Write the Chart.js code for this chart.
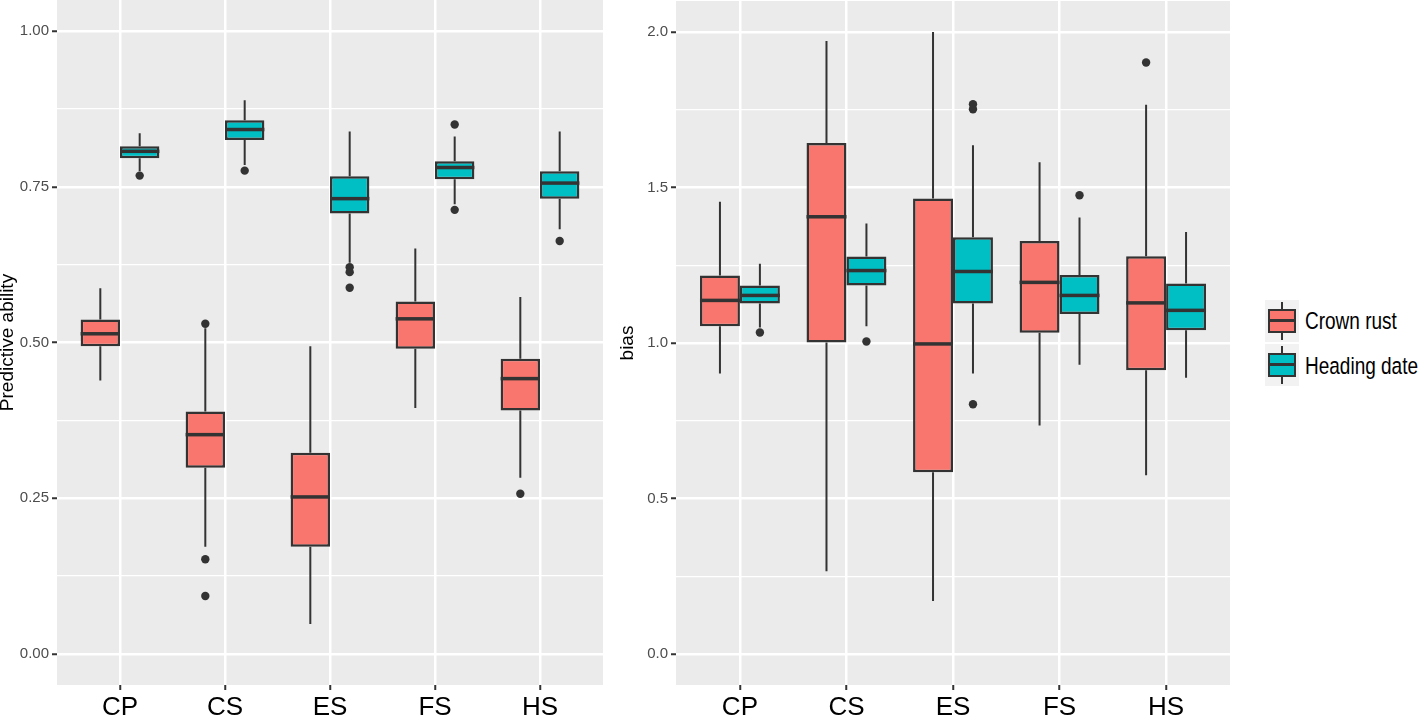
<html>
<head>
  <title>Predictive ability and bias</title>
  <script src="https://cdn.jsdelivr.net/npm/chart.js"></script>
  <style>
    body { margin: 0; background: #fff; width: 1418px; height: 719px; overflow: hidden; position: relative; font-family: "Liberation Sans", Arial, sans-serif; }
    canvas { position: absolute; top: 0; }
    #left-chart { left: 0; }
    #right-chart { left: 612px; }
    .key { position: absolute; left: 1265px; width: 34px; background: #f2f2f2; }
    .whisker { position: absolute; left: 16px; width: 2px; background: #333; }
    .kbox { position: absolute; left: 3px; width: 28px; height: 24px; box-sizing: border-box; border: 2.5px solid #333; }
    .kmed { position: absolute; left: 0; right: 0; top: 8px; height: 3px; background: #333; }
    .ktext { position: absolute; left: 1305px; font-size: 19px; line-height: 20px; color: #000; white-space: nowrap; transform: scaleY(1.25); transform-origin: left center; }
  </style>
</head>
<body>
  <canvas id="left-chart" width="603" height="719"></canvas>
  <canvas id="right-chart" width="618" height="719"></canvas>

  <!-- legend -->
  <div class="key" style="top:300px; height:42px;">
    <div class="whisker" style="top:2px; height:38px;"></div>
    <div class="kbox" style="top:9px; background:#F8766D;"><div class="kmed"></div></div>
  </div>
  <div class="ktext" style="top:311px;">Crown rust</div>
  <div class="key" style="top:344px; height:42px;">
    <div class="whisker" style="top:2px; height:38px;"></div>
    <div class="kbox" style="top:9px; background:#00BFC4;"><div class="kmed"></div></div>
  </div>
  <div class="ktext" style="top:356px;">Heading date</div>

  <script>
    const categories = ['CP', 'CS', 'ES', 'FS', 'HS'];

    // [lower whisker, q1, median, q3, upper whisker] per category
    const paCrown = [
      [0.439, 0.494, 0.514, 0.537, 0.587],
      [0.172, 0.299, 0.352, 0.389, 0.523],
      [0.048, 0.172, 0.252, 0.323, 0.494],
      [0.395, 0.490, 0.538, 0.566, 0.651],
      [0.283, 0.391, 0.442, 0.474, 0.573]
    ];
    const paCrownOut = [[], [0.530, 0.152, 0.093], [], [], [0.257]];
    const paHeading = [
      [0.775, 0.796, 0.807, 0.815, 0.836],
      [0.785, 0.825, 0.842, 0.857, 0.889],
      [0.628, 0.707, 0.731, 0.767, 0.839],
      [0.722, 0.762, 0.781, 0.791, 0.831],
      [0.682, 0.731, 0.756, 0.775, 0.839]
    ];
    const paHeadingOut = [[0.768], [0.776], [0.621, 0.613, 0.588], [0.850, 0.713], [0.663]];

    const biasCrown = [
      [0.902, 1.054, 1.137, 1.217, 1.454],
      [0.266, 1.002, 1.406, 1.643, 1.971],
      [0.170, 0.584, 0.997, 1.465, 2.000],
      [0.735, 1.033, 1.195, 1.328, 1.581],
      [0.575, 0.912, 1.129, 1.279, 1.766]
    ];
    const biasCrownOut = [[], [], [], [], [1.902]];
    const biasHeading = [
      [1.050, 1.127, 1.153, 1.185, 1.255],
      [1.054, 1.185, 1.233, 1.278, 1.384],
      [0.902, 1.127, 1.230, 1.340, 1.636],
      [0.930, 1.093, 1.153, 1.219, 1.404],
      [0.888, 1.041, 1.105, 1.191, 1.357]
    ];
    const biasHeadingOut = [[1.034], [1.005], [1.768, 1.752, 0.803], [1.475], []];

    const FONT = '"Liberation Sans", Arial, sans-serif';
    const INK = '#333333';

    // whiskers, medians, outliers and the grey panel
    const boxPlugin = {
      id: 'boxes',
      beforeDraw(chart) {
        const a = chart.chartArea, ctx = chart.ctx;
        ctx.save();
        ctx.fillStyle = '#EBEBEB';
        ctx.fillRect(a.left, a.top, a.right - a.left, a.bottom - a.top);
        ctx.restore();
      },
      beforeDatasetsDraw(chart) {
        const ctx = chart.ctx, y = chart.scales.y;
        ctx.save();
        ctx.strokeStyle = INK;
        ctx.lineWidth = 2;
        chart.$stats.forEach((stats, d) => {
          chart.getDatasetMeta(d).data.forEach((bar, i) => {
            const s = stats[i];
            ctx.beginPath();
            ctx.moveTo(bar.x, y.getPixelForValue(s[0]));
            ctx.lineTo(bar.x, y.getPixelForValue(s[1]));
            ctx.moveTo(bar.x, y.getPixelForValue(s[3]));
            ctx.lineTo(bar.x, y.getPixelForValue(s[4]));
            ctx.stroke();
          });
        });
        ctx.restore();
      },
      afterDatasetsDraw(chart) {
        const ctx = chart.ctx, y = chart.scales.y;
        ctx.save();
        ctx.fillStyle = INK;
        chart.$stats.forEach((stats, d) => {
          chart.getDatasetMeta(d).data.forEach((bar, i) => {
            const m = y.getPixelForValue(stats[i][2]);
            ctx.fillRect(bar.x - bar.width / 2, m - 1.75, bar.width, 3.5);
            chart.$outs[d][i].forEach(v => {
              ctx.beginPath();
              ctx.arc(bar.x, y.getPixelForValue(v), 4.2, 0, Math.PI * 2);
              ctx.fill();
            });
          });
        });
        ctx.restore();
      }
    };

    function makeChart(id, stats, outs, yMin, yMax, step, digits, yTitle, axisW, titlePad, padTop) {
      const isMajor = v => Math.abs(v / step - Math.round(v / step)) < 1e-6;
      const ds = (label, s, color) => ({
        label: label,
        data: s.map((r, i) => ({ x: i + 1, y: [r[1], r[3]] })),
        backgroundColor: color,
        borderColor: INK,
        borderWidth: 2.5,
        borderSkipped: false
      });
      const chart = new Chart(document.getElementById(id).getContext('2d'), {
        type: 'bar',
        data: {
          datasets: [ds('Crown rust', stats[0], '#F8766D'), ds('Heading date', stats[1], '#00BFC4')]
        },
        options: {
          responsive: false,
          animation: false,
          layout: { padding: { top: padTop, left: 0, right: 0, bottom: 0 } },
          datasets: { bar: { categoryPercentage: 0.75, barPercentage: 1 } },
          plugins: { legend: { display: false }, tooltip: { enabled: false } },
          scales: {
            x: {
              type: 'linear',
              min: 0.4,
              max: 5.6,
              offset: false,
              afterBuildTicks: s => { s.ticks = categories.map((c, i) => ({ value: i + 1 })); },
              afterFit: s => { s.height = 34; s.paddingLeft = 0; s.paddingRight = 0; },
              border: { display: false },
              grid: { offset: false, color: '#ffffff', lineWidth: 2.5, tickColor: INK, tickLength: 5, tickWidth: 2 },
              ticks: {
                autoSkip: false, maxRotation: 0, padding: 2, color: '#000',
                font: { family: FONT, size: 26 },
                callback: v => categories[v - 1]
              }
            },
            y: {
              min: yMin,
              max: yMax,
              afterBuildTicks: s => {
                const t = [];
                for (let v = 0; v <= yMax - 0.05; v += step / 2) t.push({ value: +v.toFixed(4) });
                s.ticks = t;
              },
              afterFit: s => { s.width = axisW; s.paddingTop = 0; s.paddingBottom = 0; },
              border: { display: false },
              grid: {
                color: '#ffffff',
                lineWidth: c => isMajor(c.tick.value) ? 2.5 : 1.3,
                tickColor: c => isMajor(c.tick.value) ? INK : 'rgba(0,0,0,0)',
                tickLength: 5,
                tickWidth: 2
              },
              ticks: {
                autoSkip: false, padding: 3, color: '#4D4D4D',
                font: { family: FONT, size: 15 },
                callback: v => isMajor(v) ? v.toFixed(digits) : ''
              },
              title: {
                display: true, text: yTitle, color: '#000',
                font: { family: FONT, size: 19, lineHeight: 0.84 },
                padding: { top: titlePad, bottom: 0 }
              }
            }
          }
        },
        plugins: [boxPlugin]
      });
      return chart;
    }

    // stats are attached before the first draw
    Chart.register({
      id: 'attachStats',
      beforeInit(chart) {
        if (chart.canvas.id === 'left-chart') {
          chart.$stats = [paCrown, paHeading];
          chart.$outs = [paCrownOut, paHeadingOut];
        } else {
          chart.$stats = [biasCrown, biasHeading];
          chart.$outs = [biasCrownOut, biasHeadingOut];
        }
      }
    });

    makeChart('left-chart', [paCrown, paHeading], [paCrownOut, paHeadingOut], -0.05, 1.05, 0.25, 2, 'Predictive ability', 57, 0, 0);
    makeChart('right-chart', [biasCrown, biasHeading], [biasCrownOut, biasHeadingOut], -0.1, 2.1, 0.5, 1, 'bias', 64, 8, 1);
  </script>
</body>
</html>
